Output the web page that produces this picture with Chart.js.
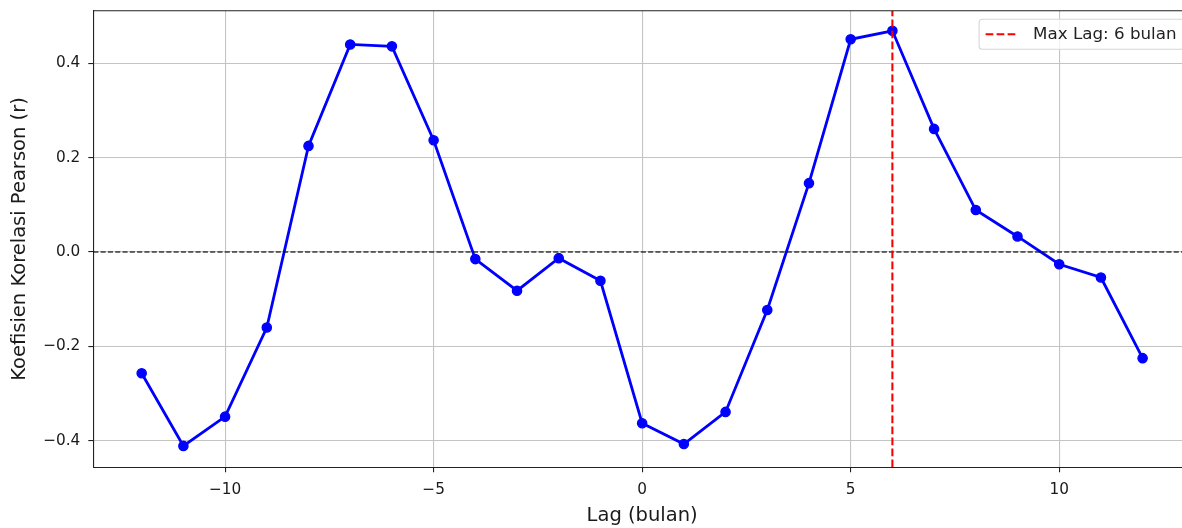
<!DOCTYPE html>
<html>
<head>
<meta charset="utf-8">
<script src="https://cdn.jsdelivr.net/npm/chart.js@4/dist/chart.umd.min.js"></script>
<style>
  html, body { margin: 0; padding: 0; background: #fff; overflow: hidden; }
  #wrap { width: 1200px; height: 528px; }
</style>
</head>
<body>
<div id="wrap"><canvas id="chart-space" width="1200" height="528"></canvas></div>
<script>
// lag in months and the Pearson r
const lags = [-12, -11, -10, -9, -8, -7, -6, -5, -4, -3, -2, -1, 0, 1, 2, 3, 4, 5, 6, 7, 8, 9, 10, 11, 12];
const rValues = [-0.257, -0.411, -0.349, -0.160, 0.225, 0.440, 0.436, 0.237, -0.015, -0.082, -0.013, -0.061,
                 -0.363, -0.407, -0.339, -0.123, 0.146, 0.451, 0.469, 0.261, 0.089, 0.033, -0.026, -0.054, -0.225];
const maxLag = 6;

const xTicks = [-10, -5, 0, 5, 10];
const yTicks = [-0.4, -0.2, 0.0, 0.2, 0.4];
const X_MIN = -13.16, X_MAX = 13.16;
const Y_MIN = -0.4564, Y_MAX = 0.5116;

const FONT = 'DejaVu Sans';
const minus = s => String(s).replace('-', '\u2212');

// top/right spine + legend box (matplotlib style)
const extras = {
  id: 'extras',
  afterDraw(chart) {
    const { ctx, chartArea: a } = chart;
    ctx.save();
    ctx.strokeStyle = '#222';
    ctx.lineWidth = 1.1;
    ctx.beginPath();
    ctx.moveTo(a.left, a.top);
    ctx.lineTo(a.right, a.top);
    ctx.lineTo(a.right, a.bottom);
    ctx.stroke();

    const ds = chart.data.datasets[0];
    ctx.font = '16.7px "' + FONT + '"';
    const tw = ctx.measureText(ds.label).width;
    const right = a.right - 7, top = a.top + 8.6, h = 30;
    const w = 6.5 + 33 + 14.5 + tw + 7.5;
    const left = right - w;
    ctx.beginPath();
    ctx.roundRect(left, top, w, h, 3);
    ctx.fillStyle = 'rgba(255,255,255,0.8)';
    ctx.fill();
    ctx.strokeStyle = '#d6d6d6';
    ctx.lineWidth = 1.1;
    ctx.stroke();

    const cy = top + h / 2;
    ctx.beginPath();
    ctx.setLineDash(ds.borderDash);
    ctx.strokeStyle = ds.borderColor;
    ctx.lineWidth = ds.borderWidth;
    ctx.moveTo(left + 6.5, cy);
    ctx.lineTo(left + 6.5 + 31, cy);
    ctx.stroke();
    ctx.setLineDash([]);
    ctx.fillStyle = '#222';
    ctx.textBaseline = 'middle';
    ctx.fillText(ds.label, left + 6.5 + 33 + 14.5, cy + 0.5);
    ctx.restore();
  }
};

new Chart(document.getElementById('chart-space'), {
  type: 'line',
  data: {
    datasets: [
      {
        label: `Max Lag: ${maxLag} bulan`,
        data: [{ x: maxLag, y: Y_MIN }, { x: maxLag, y: Y_MAX }],
        borderColor: '#ff0000',
        borderWidth: 2.1,
        borderDash: [7.7, 3.3],
        pointRadius: 0,
        order: 1
      },
      {
        label: 'zero',
        data: [{ x: X_MIN, y: 0 }, { x: X_MAX, y: 0 }],
        borderColor: 'rgba(0,0,0,0.75)',
        borderWidth: 1.4,
        borderDash: [5.1, 2.2],
        pointRadius: 0,
        order: 2
      },
      {
        label: 'r',
        data: lags.map((l, i) => ({ x: l, y: rValues[i] })),
        borderColor: '#0000ff',
        backgroundColor: '#0000ff',
        borderWidth: 2.8,
        tension: 0,
        pointRadius: 4.6,
        pointBorderWidth: 1.4,
        pointBackgroundColor: '#0000ff',
        pointBorderColor: '#0000ff',
        order: 3
      }
    ]
  },
  options: {
    responsive: false,
    animation: false,
    layout: { padding: { top: 10.7, right: 9, left: 0, bottom: 0 } },
    plugins: { legend: { display: false }, tooltip: { enabled: false } },
    scales: {
      x: {
        type: 'linear',
        min: X_MIN,
        max: X_MAX,
        afterBuildTicks: s => { s.ticks = xTicks.map(v => ({ value: v })); },
        afterFit: s => { s.height = 60.7; },
        ticks: {
          callback: v => minus(v),
          font: { family: FONT, size: 15.3 },
          color: '#1a1a1a',
          padding: 9,
          maxRotation: 0
        },
        grid: { color: '#c4c4c4', lineWidth: 1.1, tickColor: '#222', tickLength: 5, tickWidth: 1.1 },
        border: { display: true, color: '#222', width: 1.1 },
        title: {
          display: true,
          text: 'Lag (bulan)',
          font: { family: FONT, size: 19.5 },
          color: '#1a1a1a',
          padding: { top: 0, bottom: 0 }
        }
      },
      y: {
        type: 'linear',
        min: Y_MIN,
        max: Y_MAX,
        afterBuildTicks: s => { s.ticks = yTicks.map(v => ({ value: v })); },
        afterFit: s => { s.width = 93.3; s.paddingTop = 0; s.paddingBottom = 0; },
        ticks: {
          callback: v => minus(v.toFixed(1)),
          font: { family: FONT, size: 15.3 },
          color: '#1a1a1a',
          padding: 8
        },
        grid: { color: '#c4c4c4', lineWidth: 1.1, tickColor: '#222', tickLength: 5, tickWidth: 1.1 },
        border: { display: true, color: '#222', width: 1.1 },
        title: {
          display: true,
          text: 'Koefisien Korelasi Pearson (r)',
          font: { family: FONT, size: 19.5 },
          color: '#1a1a1a',
          padding: { top: 8, bottom: 0 }
        }
      }
    }
  },
  plugins: [extras]
});
</script>
</body>
</html>
